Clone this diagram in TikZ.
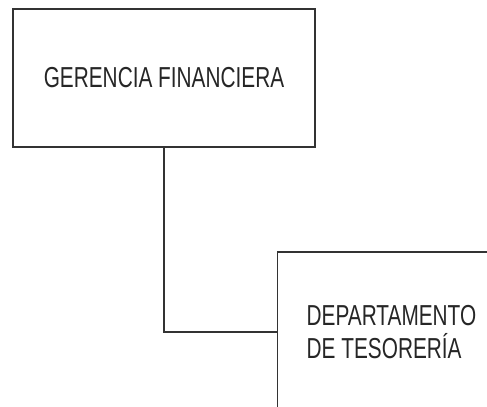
\documentclass[tikz,border=0pt]{standalone}
\usepackage{fontspec}
\setmainfont{Liberation Sans}[FakeStretch=0.72]
\begin{document}
\begin{tikzpicture}[x=1bp,y=1bp,line width=1.4bp,draw=black!80,
  caja/.style={draw,rectangle,font=\fontsize{29}{33}\selectfont,text=black!85}]
\clip (0,0) rectangle (487,406);
\useasboundingbox (0,0) rectangle (487,406);
\node[caja,minimum width=302bp,minimum height=138bp] (gerencia) at (164,328) {GERENCIA FINANCIERA};
\node[caja,anchor=west,align=left,inner xsep=29bp,minimum height=160bp] (tesoreria) at (277,74) {DEPARTAMENTO\\DE TESORERÍA};
\draw (gerencia.south) |- (tesoreria.west);
\end{tikzpicture}
\end{document}
